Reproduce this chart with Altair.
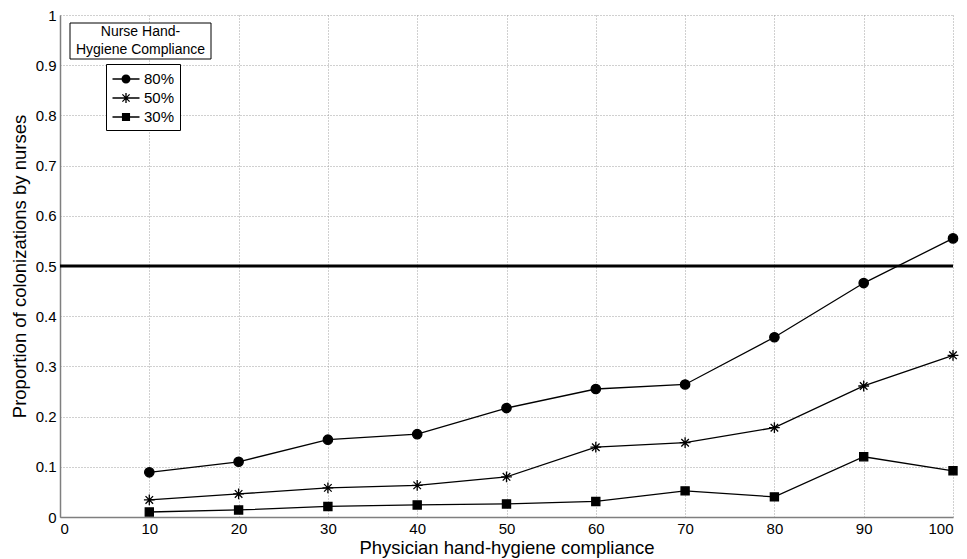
import altair as alt
import pandas as pd

# Physician compliance levels (%) and proportion of colonizations by nurses
physician = [10, 20, 30, 40, 50, 60, 70, 80, 90, 100]
nurse_80 = [0.089, 0.110, 0.154, 0.165, 0.217, 0.255, 0.264, 0.358, 0.466, 0.555]
nurse_50 = [0.034, 0.046, 0.058, 0.063, 0.080, 0.139, 0.148, 0.178, 0.261, 0.322]
nurse_30 = [0.010, 0.014, 0.021, 0.024, 0.026, 0.031, 0.052, 0.040, 0.120, 0.092]
series_names = ["80%", "50%", "30%"]
threshold = 0.5

rows = []
for name, vals in zip(series_names, [nurse_80, nurse_50, nurse_30]):
    for p, v in zip(physician, vals):
        rows.append({"physician": p, "proportion": v, "nurse": name})
df = pd.DataFrame(rows)

FONT = "Liberation Sans"

# marker shapes (unit square coordinates)
circle = "M0.52,0A0.52,0.52,0,1,1,-0.52,0A0.52,0.52,0,1,1,0.52,0Z"
asterisk = ("M-0.6,0L0.6,0M0,-0.6L0,0.6M-0.42,-0.42L0.42,0.42M-0.42,0.42L0.42,-0.42")
square = "M-0.45,-0.45L0.45,-0.45L0.45,0.45L-0.45,0.45Z"

# legend symbols: filled outlines of a marker with a line running through it
leg_line = "M-1.5,-0.075L1.5,-0.075L1.5,0.075L-1.5,0.075Z"
leg_circle = leg_line + "M0.5,0A0.5,0.5,0,1,1,-0.5,0A0.5,0.5,0,1,1,0.5,0Z"
leg_asterisk = leg_line + (
    "M-0.075,-0.55L0.075,-0.55L0.075,0.55L-0.075,0.55Z"
    "M-0.35,-0.45L0.45,0.35L0.35,0.45L-0.45,-0.35Z"
    "M-0.45,0.35L0.35,-0.45L0.45,-0.35L-0.35,0.45Z"
)
leg_square = leg_line + "M-0.45,-0.45L0.45,-0.45L0.45,0.45L-0.45,0.45Z"

x_enc = alt.X("physician:Q", scale=alt.Scale(domain=[0, 100], nice=False),
              axis=alt.Axis(values=list(range(0, 101, 10)),
                            title="Physician hand-hygiene compliance",
                            titlePadding=2))
y_enc = alt.Y("proportion:Q", scale=alt.Scale(domain=[0, 1], nice=False),
              axis=alt.Axis(values=[i / 10 for i in range(11)],
                            labelExpr="datum.value == 0 ? '0' : datum.value == 1 ? '1' : format(datum.value, '.1f')",
                            title="Proportion of colonizations by nurses",
                            titlePadding=6))

base = alt.Chart(df)

lines = base.mark_line(color="black", strokeWidth=1.3).encode(
    x=x_enc, y=y_enc, detail="nurse:N"
)

points = base.mark_point(filled=False, fill="black", fillOpacity=1, stroke="black",
                         strokeWidth=1.3, size=324, opacity=1).encode(
    x="physician:Q", y="proportion:Q",
    shape=alt.Shape("nurse:N",
                    scale=alt.Scale(domain=series_names, range=[circle, asterisk, square]),
                    legend=None)
)

legend_layer = base.mark_point(filled=True, fill="black", fillOpacity=1).encode(
    x="physician:Q", y="proportion:Q",
    shape=alt.Shape("nurse:N",
                    scale=alt.Scale(domain=series_names,
                                    range=[leg_circle, leg_asterisk, leg_square]),
                    legend=alt.Legend(
                        title=None, orient="none", legendX=46, legendY=49,
                        strokeColor="black", fillColor="white", padding=5,
                        cornerRadius=0, symbolSize=324, symbolOpacity=1,
                        symbolFillColor="black",
                        symbolOffset=5, labelOffset=8,
                        labelFont=FONT, labelFontSize=15, labelColor="black",
                        rowPadding=1))
).transform_filter("false")

thresh = alt.Chart(pd.DataFrame({"x0": [0], "x1": [100], "y": [threshold]})).mark_rule(
    color="black", strokeWidth=3
).encode(x="x0:Q", x2="x1:Q", y="y:Q")

title_box = alt.Chart(pd.DataFrame({"a": [0]})).mark_rect(
    fill="white", stroke="black", strokeWidth=1
).encode(x=alt.value(10), x2=alt.value(151), y=alt.value(8), y2=alt.value(44))

title_text = alt.Chart(pd.DataFrame({
    "line": ["Nurse Hand-", "Hygiene Compliance"],
    "ypos": [17, 35]
})).mark_text(font=FONT, fontSize=14, color="black", align="center",
              baseline="middle").encode(
    x=alt.value(80.5), y=alt.Y("ypos:Q", scale=None), text="line:N"
)

chart = alt.layer(
    thresh, lines, points, legend_layer, title_box, title_text
).resolve_scale(shape="independent").properties(
    width=893, height=502,
    autosize=alt.AutoSizeParams(type="none"),
    padding={"left": 60, "top": 15, "right": 14, "bottom": 42},
    background="white"
).configure_view(stroke=None).configure_axis(
    domainColor="#7f7f7f", domainWidth=1.5,
    grid=True, gridColor="#a0a0a0", gridDash=[1, 2], gridWidth=1, gridOpacity=1,
    ticks=False, labelFont=FONT, labelFontSize=15, labelColor="black",
    titleFont=FONT, titleFontSize=18.5, titleFontWeight="normal", titleColor="black"
).configure_axisX(labelPadding=4).configure_axisY(labelPadding=4)

chart.save("out.html", embed_options={"renderer": "svg", "actions": False})
